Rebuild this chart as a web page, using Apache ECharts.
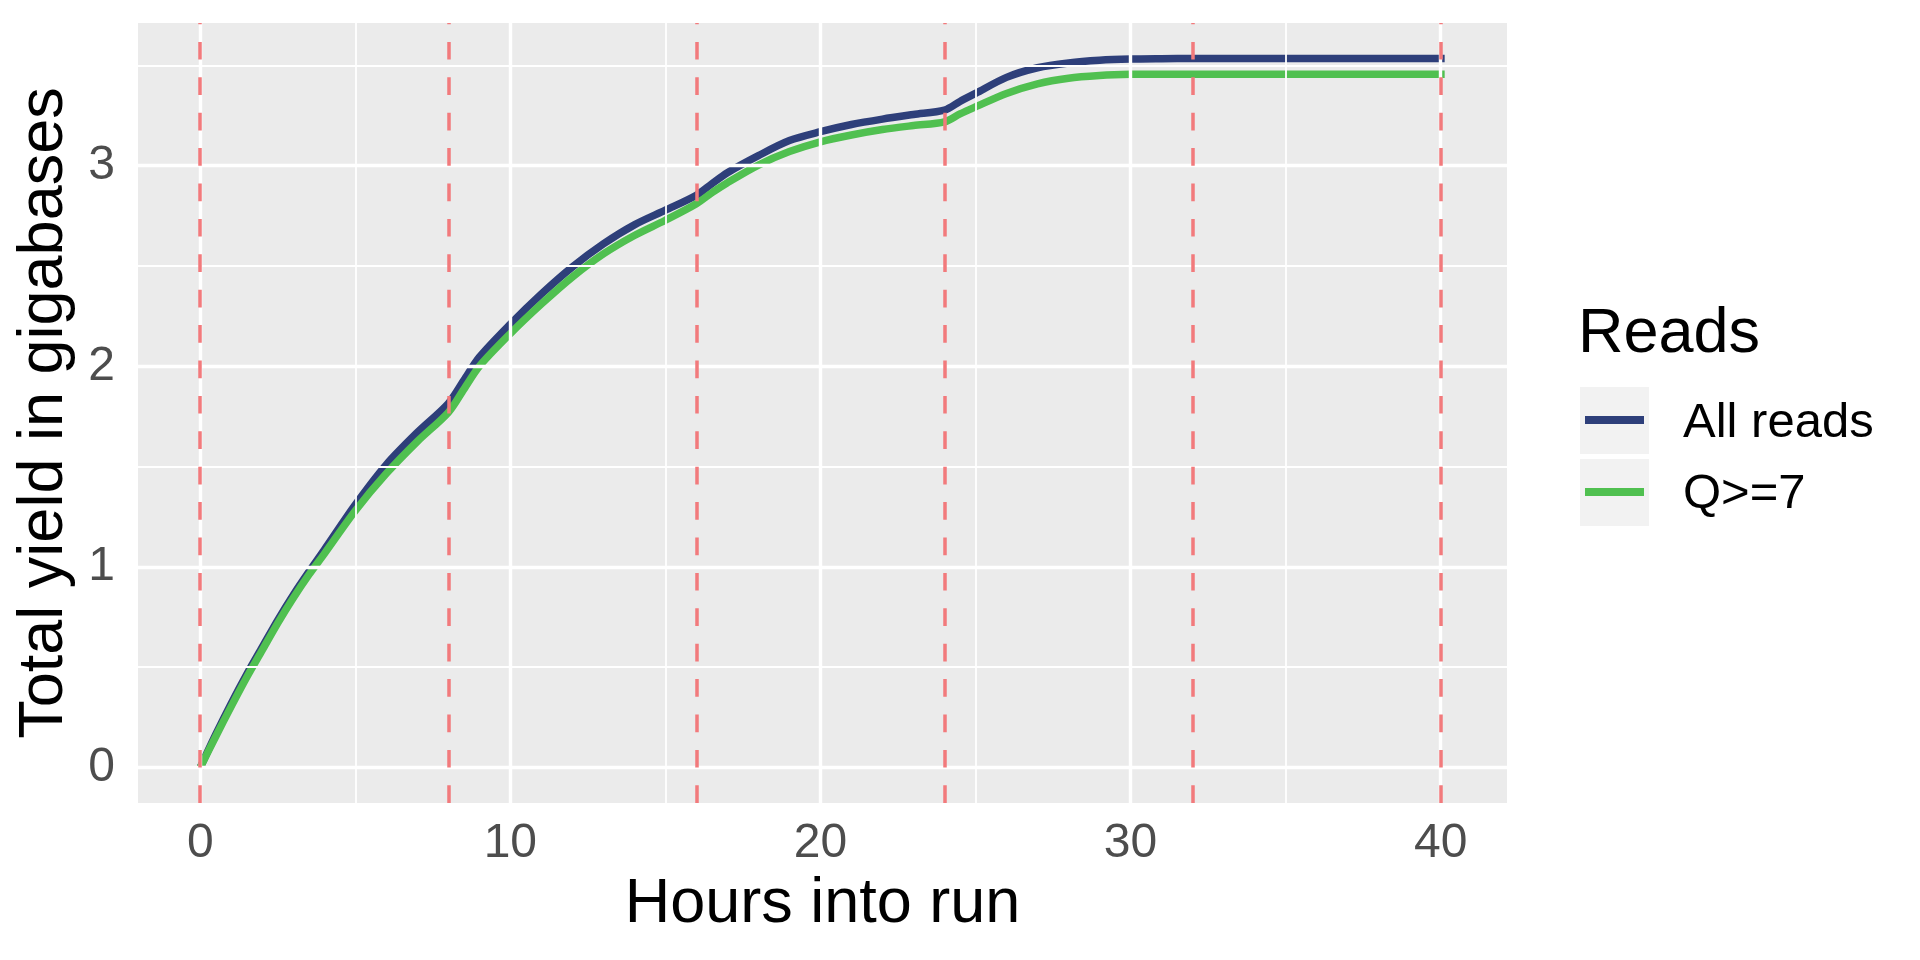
<!DOCTYPE html>
<html>
<head>
<meta charset="utf-8">
<script src="https://cdn.jsdelivr.net/npm/echarts@6/dist/echarts.min.js"></script>
<style>
  html, body { margin: 0; padding: 0; background: #ffffff; }
  #chart { width: 1920px; height: 960px; }
</style>
</head>
<body>
<div id="chart"></div>
<script>
// ---- data ----
const hours    = [0, 0.5, 1, 1.5, 2, 2.5, 3, 3.5, 4, 5, 6, 7, 8, 8.5, 9, 10, 11, 12, 13, 14, 15, 16, 16.5, 17, 18, 19, 20, 21, 22, 23, 24, 24.5, 25, 26, 27, 28, 29, 30, 31, 32, 34, 36, 38, 40.13];
const allReads = [0, 0.165, 0.32, 0.465, 0.60, 0.735, 0.86, 0.975, 1.085, 1.31, 1.51, 1.67, 1.815, 1.93, 2.045, 2.21, 2.36, 2.495, 2.61, 2.705, 2.778, 2.853, 2.91, 2.965, 3.05, 3.125, 3.169, 3.205, 3.232, 3.255, 3.277, 3.32, 3.36, 3.44, 3.488, 3.512, 3.525, 3.531, 3.533, 3.534, 3.534, 3.534, 3.534, 3.534];
const q7Reads  = [0, 0.155, 0.305, 0.45, 0.585, 0.72, 0.845, 0.96, 1.065, 1.28, 1.465, 1.625, 1.77, 1.885, 2.0, 2.163, 2.31, 2.445, 2.56, 2.652, 2.728, 2.81, 2.865, 2.915, 3.003, 3.07, 3.119, 3.153, 3.18, 3.20, 3.218, 3.258, 3.293, 3.36, 3.408, 3.436, 3.449, 3.455, 3.456, 3.456, 3.456, 3.456, 3.456, 3.456];
const seriesNames = ['All reads', 'Q>=7'];
const vlineHours  = [0, 8, 16, 24, 32, 40];
const xTicks      = [0, 10, 20, 30, 40];
const xMinor      = [5, 15, 25, 35];
const yTicks      = [0, 1, 2, 3];
const yMinor      = [0.5, 1.5, 2.5, 3.5];

// ---- styling ----
const FONT = "'Liberation Sans', Arial, Helvetica, sans-serif";
const BLUE = '#2E3F7A';
const GREEN = '#50C050';
const VLINE = '#F27A7C';

const chart = echarts.init(document.getElementById('chart'), null, { renderer: 'canvas' });

function pairs(xs, ys) { return xs.map((x, i) => [x, ys[i]]); }
function vLines(vals) { return vals.map(v => ({ xAxis: v })); }
function hLines(vals) { return vals.map(v => ({ yAxis: v })); }

const baseMark = {
  symbol: ['none', 'none'],
  silent: true,
  label: { show: false },
  emphasis: { disabled: true },
  animation: false
};

const option = {
  animation: false,
  backgroundColor: '#ffffff',
  grid: {
    left: 138, right: 413, top: 23, bottom: 157,
    show: true, backgroundColor: '#EBEBEB', borderWidth: 0
  },
  xAxis: {
    type: 'value',
    min: -2.007, max: 42.14,
    name: 'Hours into run',
    nameLocation: 'middle',
    nameGap: 67,
    nameTextStyle: { fontFamily: FONT, fontSize: 63, color: '#000000' },
    axisLine: { show: false },
    axisTick: { show: true, customValues: xTicks, length: 11, lineStyle: { color: '#333333', width: 2.8 } },
    axisLabel: { customValues: xTicks, margin: 17, fontFamily: FONT, fontSize: 48, color: '#4D4D4D' },
    splitLine: { show: false },
    minorSplitLine: { show: false }
  },
  yAxis: {
    type: 'value',
    min: -0.1767, max: 3.711,
    name: 'Total yield in gigabases',
    nameLocation: 'middle',
    nameGap: 62,
    nameTextStyle: { fontFamily: FONT, fontSize: 63, color: '#000000' },
    axisLine: { show: false },
    axisTick: { show: true, customValues: yTicks, length: 11, lineStyle: { color: '#333333', width: 2.8 } },
    axisLabel: { customValues: yTicks, margin: 23, fontFamily: FONT, fontSize: 48, color: '#4D4D4D' },
    splitLine: { show: false }
  },
  series: [
    {
      name: 'gridMinor', type: 'line', data: [], z: 1, silent: true,
      markLine: Object.assign({}, baseMark, {
        lineStyle: { color: '#FFFFFF', width: 1.8, type: 'solid' },
        data: vLines(xMinor).concat(hLines(yMinor))
      })
    },
    {
      name: 'gridMajor', type: 'line', data: [], z: 1, silent: true,
      markLine: Object.assign({}, baseMark, {
        lineStyle: { color: '#FFFFFF', width: 3.4, type: 'solid' },
        data: vLines(xTicks).concat(hLines(yTicks))
      })
    },
    {
      name: 'breaks', type: 'line', data: [], z: 2, silent: true,
      markLine: Object.assign({}, baseMark, {
        lineStyle: { color: VLINE, width: 3.5, type: [17.7, 17.7], opacity: 1 },
        data: vLines(vlineHours)
      })
    },
    {
      name: seriesNames[0], type: 'line', z: 3,
      data: pairs(hours, allReads),
      showSymbol: false, smooth: 0.3,
      lineStyle: { color: BLUE, width: 7.5, cap: 'butt', join: 'round' },
      itemStyle: { color: BLUE },
      emphasis: { disabled: true }
    },
    {
      name: seriesNames[1], type: 'line', z: 4,
      data: pairs(hours, q7Reads),
      showSymbol: false, smooth: 0.3,
      lineStyle: { color: GREEN, width: 7.5, cap: 'butt', join: 'round' },
      itemStyle: { color: GREEN },
      emphasis: { disabled: true }
    }
  ],
  graphic: [
    { type: 'text', left: 1578, top: 303, silent: true,
      style: { text: 'Reads', font: '63px ' + FONT, fill: '#000000' } },
    { type: 'rect', shape: { x: 1580, y: 387, width: 69, height: 67 }, style: { fill: '#F2F2F2' }, silent: true },
    { type: 'rect', shape: { x: 1580, y: 459, width: 69, height: 67 }, style: { fill: '#F2F2F2' }, silent: true },
    { type: 'line', shape: { x1: 1585, y1: 420, x2: 1644, y2: 420 }, style: { stroke: BLUE, lineWidth: 8 }, silent: true },
    { type: 'line', shape: { x1: 1585, y1: 492, x2: 1644, y2: 492 }, style: { stroke: GREEN, lineWidth: 8 }, silent: true },
    { type: 'text', left: 1683, top: 399, silent: true,
      style: { text: seriesNames[0], font: '49px ' + FONT, fill: '#000000' } },
    { type: 'text', left: 1683, top: 470, silent: true,
      style: { text: seriesNames[1], font: '49px ' + FONT, fill: '#000000' } }
  ]
};

chart.setOption(option);
</script>
</body>
</html>
